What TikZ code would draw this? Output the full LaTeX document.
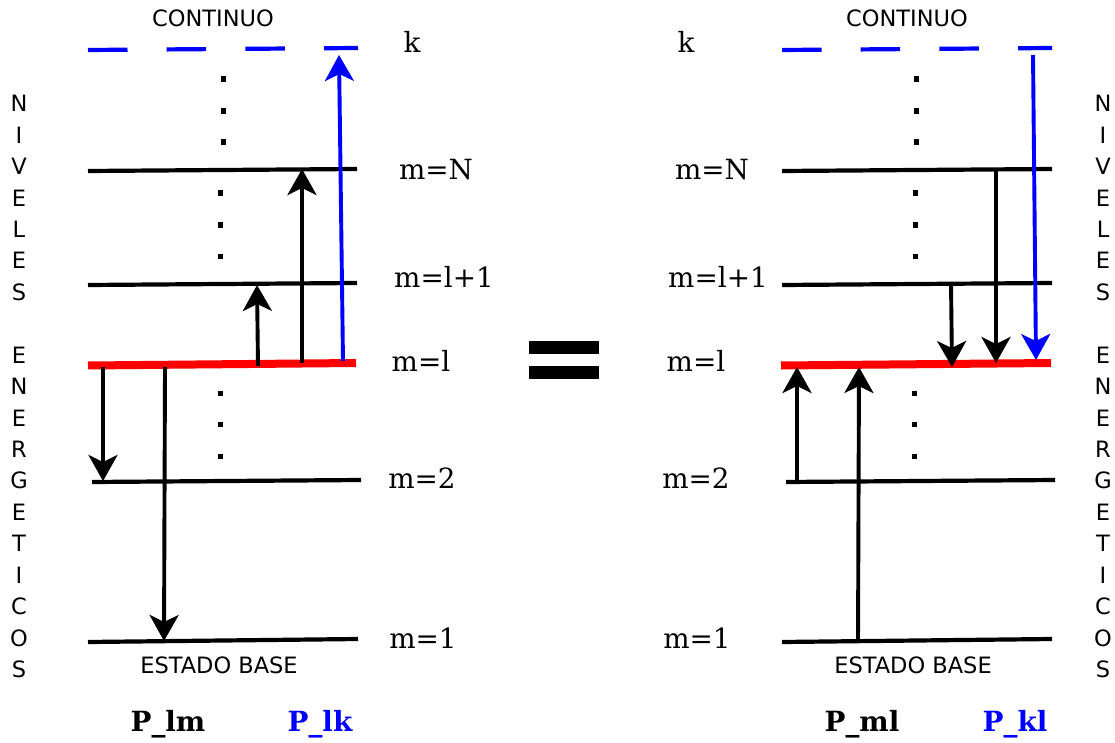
\documentclass[tikz,border=0pt]{standalone}
\usepackage{fontspec}
\setmainfont{DejaVu Serif}
\setsansfont{DejaVu Sans}
\usetikzlibrary{arrows.meta}
\definecolor{pblue}{RGB}{0,0,255}
\definecolor{pred}{RGB}{255,0,0}
\begin{document}
\begin{tikzpicture}[x=1pt,y=-1pt,
  lvl/.style={line width=4.2pt},
  redlvl/.style={line width=8pt, pred},
  cont/.style={line width=4.2pt, pblue, dash pattern=on 39.5pt off 39.2pt},
  arr/.style={line width=3.9pt, -{Stealth[length=26pt,width=29pt,inset=7pt]}},
  barr/.style={arr, pblue},
  mlab/.style={font=\fontsize{27.8}{33}\selectfont, anchor=base, inner sep=0pt},
  slab/.style={font=\sffamily\fontsize{22.5}{27}\selectfont, anchor=base, inner sep=0pt},
  plab/.style={font=\bfseries\fontsize{27.8}{33}\selectfont, anchor=base, inner sep=0pt},
  vlab/.style={font=\sffamily\fontsize{22.5}{27}\selectfont, anchor=base, inner sep=0pt}
]
\useasboundingbox (0,0) rectangle (1115,743);

% ---------- LEFT PANEL ----------
\draw[cont] (88,50) -- (358,48);
\draw[lvl] (88,171) -- (357,169);
\draw[lvl] (88,285) -- (357,283);
\draw[redlvl] (88,365.5) -- (356,363);
\draw[lvl] (92,482) -- (361,480);
\draw[lvl] (88,642) -- (358,639);

% dots
\foreach \y in {79,111,142} \fill (220.5,\y-2.5) rectangle +(5,5.5);
\foreach \y in {193,225,256} \fill (217.5,\y-2.5) rectangle +(5,5.5);
\foreach \y in {393,424,456} \fill (217.5,\y-2.5) rectangle +(5,5.5);

% arrow end points
\coordinate (Lb0) at (343,361);  \coordinate (Lb1) at (339,55);
\coordinate (La0) at (302,363);  \coordinate (La1) at (302,169);
\coordinate (Lc0) at (258,366);  \coordinate (Lc1) at (257,285);
\coordinate (Ld0) at (103,367);  \coordinate (Ld1) at (103,481);
\coordinate (Le0) at (165,367);  \coordinate (Le1) at (164,641);
\draw[barr] (Lb0) -- (Lb1);
\draw[arr] (La0) -- (La1);
\draw[arr] (Lc0) -- (Lc1);
\draw[arr] (Ld0) -- (Ld1);
\draw[arr] (Le0) -- (Le1);

% labels
\node[slab] (Lcont) at (213,26.5) {CONTINUO};
\node[mlab] (Lk) at (412,53) {k};
\node[mlab] (LmN) at (436,180) {m=N};
\node[mlab] (Lml1) at (444,287) {m=l+1};
\node[mlab] (Lml) at (421,371) {m=l};
\node[mlab] (Lm2) at (422,488) {m=2};
\node[mlab] (Lm1) at (423,648) {m=1};
\node[slab] (Lbase) at (219,673) {ESTADO BASE};
\node[plab] (Plm) at (168,731) {P\_lm};
\node[plab, text=pblue] (Plk) at (320,731) {P\_lk};

% ---------- EQUALS ----------
\fill (529,341) rectangle (599,354);
\fill (529,366) rectangle (599,379);

% ---------- RIGHT PANEL ----------
\draw[cont] (782,50) -- (1052,48);
\draw[lvl] (782,171) -- (1052,169);
\draw[lvl] (782,285) -- (1052,283);
\draw[redlvl] (781,365.5) -- (1051,363);
\draw[lvl] (786,482) -- (1055,480);
\draw[lvl] (782,642) -- (1052,639);

\foreach \y in {79,111,142} \fill (913.5,\y-2.5) rectangle +(5,5.5);
\foreach \y in {193,225,256} \fill (912.5,\y-2.5) rectangle +(5,5.5);
\foreach \y in {393,424,456} \fill (911.5,\y-2.5) rectangle +(5,5.5);

\coordinate (Rb0) at (1033,55);  \coordinate (Rb1) at (1036,360);
\coordinate (Ra0) at (996,168);  \coordinate (Ra1) at (996,363);
\coordinate (Rc0) at (951,284);  \coordinate (Rc1) at (952,367);
\coordinate (Rd0) at (797,481);  \coordinate (Rd1) at (797,367);
\coordinate (Re0) at (858,641);  \coordinate (Re1) at (859,367);
\draw[barr] (Rb0) -- (Rb1);
\draw[arr] (Ra0) -- (Ra1);
\draw[arr] (Rc0) -- (Rc1);
\draw[arr] (Rd0) -- (Rd1);
\draw[arr] (Re0) -- (Re1);

\node[slab] (Rcont) at (907,26.5) {CONTINUO};
\node[mlab] (Rk) at (686,53) {k};
\node[mlab] (RmN) at (712,180) {m=N};
\node[mlab] (Rml1) at (718,287) {m=l+1};
\node[mlab] (Rml) at (696,371) {m=l};
\node[mlab] (Rm2) at (696,488) {m=2};
\node[mlab] (Rm1) at (697,648) {m=1};
\node[slab] (Rbase) at (913,673) {ESTADO BASE};
\node[plab] (Pml) at (862,731) {P\_ml};
\node[plab, text=pblue] (Pkl) at (1015,731) {P\_kl};

% ---------- VERTICAL TEXT ----------
\foreach \l [count=\i from 0] in {N,I,V,E,L,E,S}{
  \node[vlab] (vla\i) at (19,111.7+31.44*\i) {\l};
  \node[vlab] (vra\i) at (1103,111.7+31.44*\i) {\l};
}
\foreach \l [count=\i from 8] in {E,N,E,R,G,E,T,I,C,O,S}{
  \node[vlab] (vlb\i) at (19,111.7+31.44*\i) {\l};
  \node[vlab] (vrb\i) at (1103,111.7+31.44*\i) {\l};
}
\end{tikzpicture}
\end{document}
